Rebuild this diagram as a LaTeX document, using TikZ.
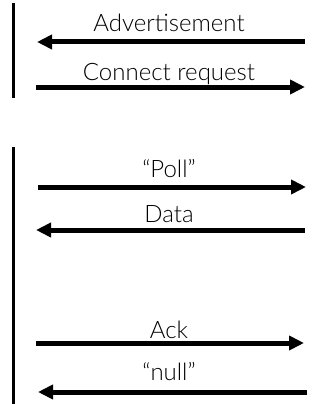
\documentclass[tikz,border=0pt]{standalone}
\usepackage{fontspec}
\setmainfont{Lato Light}
\usetikzlibrary{arrows.meta}
\begin{document}
\begin{tikzpicture}[x=1pt,y=-1pt,
  lifeline/.style={line width=2.5pt},
  msg/.style={line width=5pt,-{Triangle[length=15pt,width=14pt]}},
  lbl/.style={anchor=base,inner sep=0pt,font=\fontsize{24}{28}\selectfont}]
\useasboundingbox (0,0) rectangle (325,404);
% lifelines
\coordinate (l1t) at (13.5,3);
\coordinate (l1b) at (13.5,98);
\coordinate (l2t) at (13.5,147);
\coordinate (l2b) at (13.5,404);
\draw[lifeline] (l1t) -- (l1b);
\draw[lifeline] (l2t) -- (l2b);
% message end points
\coordinate (advR) at (305,42);  \coordinate (advL) at (37,42);
\coordinate (conL) at (36,87);   \coordinate (conR) at (305,87);
\coordinate (polL) at (38,187);  \coordinate (polR) at (306,187);
\coordinate (datR) at (305,230); \coordinate (datL) at (36,230);
\coordinate (ackL) at (36,343);  \coordinate (ackR) at (304,343);
\coordinate (nulR) at (307,392); \coordinate (nulL) at (38,392);
\draw[msg] (advR) -- (advL);
\draw[msg] (conL) -- (conR);
\draw[msg] (polL) -- (polR);
\draw[msg] (datR) -- (datL);
\draw[msg] (ackL) -- (ackR);
\draw[msg] (nulR) -- (nulL);
% labels
\node[lbl] (advT) at (169,32) {Advertisement};
\node[lbl] (conT) at (169,80) {Connect request};
\node[lbl] (polT) at (169,177) {“Poll”};
\node[lbl] (datT) at (169,222) {Data};
\node[lbl] (ackT) at (169,338) {Ack};
\node[lbl] (nulT) at (169,380) {“null”};
\end{tikzpicture}
\end{document}
